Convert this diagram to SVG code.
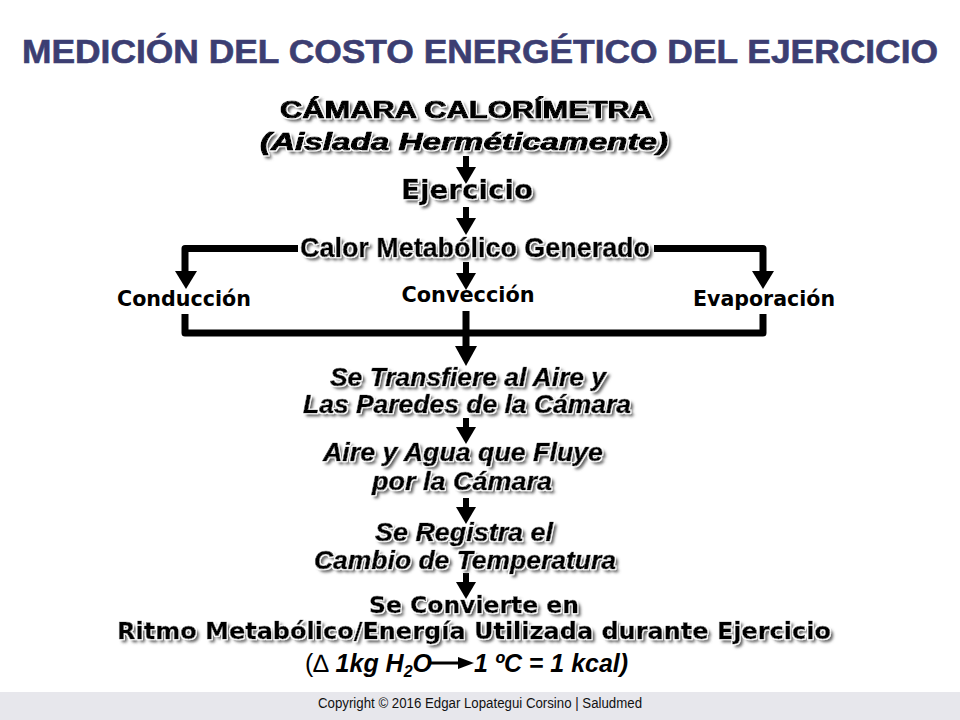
<svg xmlns="http://www.w3.org/2000/svg" width="960" height="720" viewBox="0 0 960 720">
<defs>
<filter id="sh" x="-10%" y="-30%" width="120%" height="170%">
<feMorphology in="SourceAlpha" operator="dilate" radius="1" result="d"/>
<feFlood flood-color="#ffffff"/>
<feComposite in2="d" operator="in" result="w"/>
<feGaussianBlur in="SourceAlpha" stdDeviation="1.4" result="b"/>
<feOffset in="b" dx="3" dy="3" result="o"/>
<feFlood flood-color="#5a5a5a"/>
<feComposite in2="o" operator="in" result="s"/>
<feMerge><feMergeNode in="s"/><feMergeNode in="w"/><feMergeNode in="SourceGraphic"/></feMerge>
</filter>
</defs>
<style>
.t{font-family:"Liberation Sans",Arial,sans-serif;font-weight:bold;fill:#000;text-anchor:middle}
.v{font-family:"DejaVu Sans",Verdana,sans-serif;font-weight:bold;fill:#000;text-anchor:middle}
.i{font-style:italic}
.k{stroke:#000;stroke-width:0.7;stroke-linejoin:round}
.ln{fill:none;stroke:#000;stroke-width:7;stroke-linejoin:round}
.ar{fill:none;stroke:#000;stroke-width:6}
</style>
<rect width="960" height="720" fill="#fff"/>
<text x="480" y="63" class="t" font-size="33" style="fill:#3c3e72;stroke:#3c3e72;stroke-width:0.6" textLength="916" lengthAdjust="spacingAndGlyphs">MEDICIÓN DEL COSTO ENERGÉTICO DEL EJERCICIO</text>

<g id="connectors">
<line x1="466" y1="156" x2="466" y2="168" class="ar"/>
<path d="M456,167 L476,167 L466,184 Z"/>
<line x1="466" y1="207" x2="466" y2="219" class="ar"/>
<path d="M456,218 L476,218 L466,235 Z"/>
<path d="M298,248.5 L185,248.5 L185,273" class="ln"/>
<path d="M175,271 L197,271 L186,289 Z"/>
<path d="M654,248.5 L763,248.5 L763,273" class="ln"/>
<path d="M752,271 L774,271 L763,289 Z"/>
<line x1="466" y1="262" x2="466" y2="275" class="ar"/>
<path d="M456,273 L476,273 L466,290 Z"/>
<path d="M185,314 L185,333 L763,333 L763,314" class="ln"/>
<line x1="466" y1="311" x2="466" y2="349" class="ln"/>
<path d="M455,346 L477,346 L466,366 Z"/>
<line x1="466" y1="418" x2="466" y2="429" class="ar"/>
<path d="M456,427 L476,427 L466,444 Z"/>
<line x1="466" y1="498" x2="466" y2="509" class="ar"/>
<path d="M456,507 L476,507 L466,524 Z"/>
<line x1="466" y1="573" x2="466" y2="584" class="ar"/>
<path d="M456,582 L476,582 L466,599 Z"/>
</g>

<g id="camara" filter="url(#sh)">
<text x="466" y="118" class="t k" font-size="24" textLength="372" lengthAdjust="spacingAndGlyphs" style="stroke-width:1.1">CÁMARA CALORÍMETRA</text>
<text x="464" y="150" class="t i k" font-size="24" textLength="408" lengthAdjust="spacingAndGlyphs" style="stroke-width:1.1">(Aislada Herméticamente)</text>
</g>
<g id="ejercicio" filter="url(#sh)">
<text x="467" y="199" class="v k" font-size="27" textLength="132" lengthAdjust="spacingAndGlyphs" style="stroke-width:0.5">Ejercicio</text>
</g>
<g id="calor" filter="url(#sh)">
<text x="475" y="257" class="t k" font-size="27" textLength="350" lengthAdjust="spacingAndGlyphs">Calor Metabólico Generado</text>
</g>
<g id="conduccion">
<text x="184" y="306" class="v" font-size="21" textLength="134" lengthAdjust="spacingAndGlyphs">Conducción</text>
</g>
<g id="conveccion">
<text x="468" y="302" class="v" font-size="21" textLength="133" lengthAdjust="spacingAndGlyphs">Convección</text>
</g>
<g id="evaporacion">
<text x="764" y="306" class="v" font-size="21" textLength="142" lengthAdjust="spacingAndGlyphs">Evaporación</text>
</g>
<g id="transfiere" filter="url(#sh)">
<text x="468" y="386" class="t i k" font-size="25" textLength="276" lengthAdjust="spacingAndGlyphs">Se Transfiere al Aire y</text>
<text x="467" y="413" class="t i k" font-size="25" textLength="328" lengthAdjust="spacingAndGlyphs">Las Paredes de la Cámara</text>
</g>
<g id="aire" filter="url(#sh)">
<text x="463" y="461" class="t i k" font-size="25" textLength="280" lengthAdjust="spacingAndGlyphs">Aire y Agua que Fluye</text>
<text x="462" y="490" class="t i k" font-size="25" textLength="180" lengthAdjust="spacingAndGlyphs">por la Cámara</text>
</g>
<g id="registra" filter="url(#sh)">
<text x="464" y="541" class="t i k" font-size="25" textLength="178" lengthAdjust="spacingAndGlyphs">Se Registra el</text>
<text x="465" y="569" class="t i k" font-size="25" textLength="302" lengthAdjust="spacingAndGlyphs">Cambio de Temperatura</text>
</g>
<g id="convierte" filter="url(#sh)">
<text x="474" y="613" class="v k" font-size="23" textLength="210" lengthAdjust="spacingAndGlyphs" style="stroke-width:0.5">Se Convierte en</text>
<text x="474" y="639" class="v k" font-size="23" textLength="714" lengthAdjust="spacingAndGlyphs" style="stroke-width:0.5">Ritmo Metabólico/Energía Utilizada durante Ejercicio</text>
</g>
<g id="formula">
<text x="305" y="672" font-family="'Liberation Sans',Arial,sans-serif" font-size="25" font-style="italic" font-weight="bold"><tspan font-style="normal" font-weight="normal">(∆ </tspan>1kg H<tspan font-size="16" dy="5">2</tspan><tspan dy="-5">O</tspan></text>
<line x1="428" y1="663" x2="462" y2="663" stroke="#000" stroke-width="3"/>
<path d="M458,657 L474,663 L458,669 Z"/>
<text x="474" y="672" font-family="'Liberation Sans',Arial,sans-serif" font-size="25" font-style="italic" font-weight="bold" textLength="154" lengthAdjust="spacingAndGlyphs">1 ºC = 1 kcal)</text>
</g>
<g id="footer">
<rect x="0" y="692" width="960" height="28" fill="#e7e7ec"/>
<text x="480" y="708" font-family="'Liberation Sans',Arial,sans-serif" font-size="14" text-anchor="middle" fill="#111" textLength="324" lengthAdjust="spacingAndGlyphs">Copyright © 2016 Edgar Lopategui Corsino | Saludmed</text>
</g>
</svg>
